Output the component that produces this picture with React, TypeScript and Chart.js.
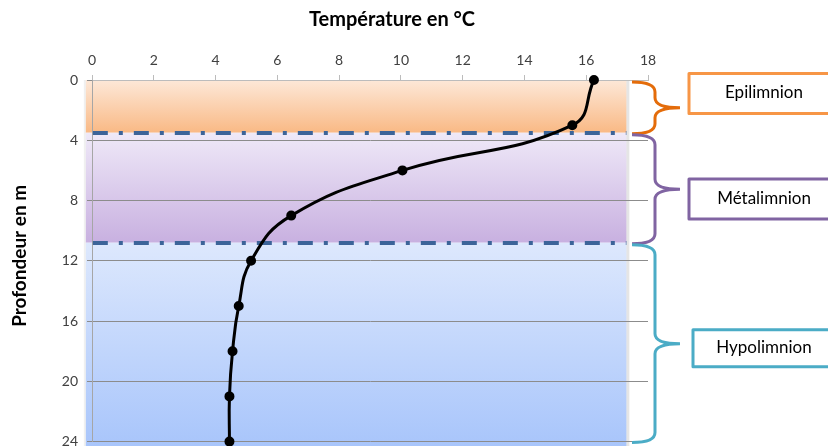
import React, { useEffect, useRef } from 'react';
import { Chart, registerables } from 'chart.js';

Chart.register(...registerables);

// ---- Data ----
const depths = [0, 3, 6, 9, 12, 15, 18, 21, 24];
const temperatures = [16.25, 15.55, 10.05, 6.45, 5.15, 4.75, 4.55, 4.45, 4.45];

const layerNames = ['Epilimnion', 'Métalimnion', 'Hypolimnion'];
const layerTops = [0, 3.5, 10.8];
const layerBottoms = [3.5, 10.8, 24];
const layerLabelDepths = [0.9, 7.9, 17.8];

const xTitle = 'Température en °C';
const yTitle = 'Profondeur en m';
const xTicksRange = [0, 18, 2]; // min, max, step
const yTicksRange = [0, 24, 4];
const bandTempRange = [-0.2, 17.3];

// ---- Styles ----
const FONT = 'Lato, "Open Sans", sans-serif';
const layerStyles = [
  { top: '#fde8d8', bottom: '#f9b985', brace: '#e46c0a', box: '#f79646' },
  { top: '#efe9f8', bottom: '#c8b0e0', brace: '#8064a2', box: '#8064a2' },
  { top: '#dde8fd', bottom: '#a5c3fb', brace: '#4bacc6', box: '#4bacc6' },
];

const decorPlugin = {
  id: 'decor',
  beforeDraw(chart: any) {
    const { ctx } = chart;
    const x = chart.scales.x;
    const y = chart.scales.y;
    const left = x.getPixelForValue(bandTempRange[0]);
    const right = x.getPixelForValue(bandTempRange[1]);
    ctx.save();
    layerTops.forEach((t, i) => {
      const y0 = y.getPixelForValue(t);
      const y1 = i === layerTops.length - 1 ? chart.height : y.getPixelForValue(layerBottoms[i]);
      const g = ctx.createLinearGradient(0, y0, 0, y1);
      g.addColorStop(0, layerStyles[i].top);
      g.addColorStop(1, layerStyles[i].bottom);
      ctx.fillStyle = g;
      ctx.fillRect(left, y0, right - left, y1 - y0);
    });
    const top = y.getPixelForValue(layerTops[0]);
    ctx.fillStyle = 'rgba(0,0,0,0.10)';
    ctx.fillRect(right, top, 3, chart.height - top);
    ctx.fillStyle = 'rgba(0,0,0,0.06)';
    ctx.fillRect(left - 2, top, 2, chart.height - top);
    ctx.restore();
  },
  beforeDatasetsDraw(chart: any) {
    const { ctx } = chart;
    const x = chart.scales.x;
    const y = chart.scales.y;
    const left = x.getPixelForValue(bandTempRange[0]);
    const right = x.getPixelForValue(bandTempRange[1]);
    ctx.save();
    ctx.strokeStyle = '#3c6499';
    ctx.lineWidth = 4;
    ctx.setLineDash([15, 11, 4, 11]);
    ctx.lineDashOffset = 34;
    [layerBottoms[0], layerBottoms[1]].forEach((d) => {
      const py = Math.round(y.getPixelForValue(d));
      ctx.beginPath();
      ctx.moveTo(left, py);
      ctx.lineTo(right, py);
      ctx.stroke();
    });
    ctx.restore();
  },
  afterDraw(chart: any) {
    const { ctx, chartArea } = chart;
    const y = chart.scales.y;
    ctx.save();
    // titles
    ctx.fillStyle = '#000';
    ctx.font = `bold 20px ${FONT}`;
    ctx.textAlign = 'center';
    ctx.textBaseline = 'middle';
    ctx.fillText(xTitle, (chartArea.left + chartArea.right) / 2 + 22, 20);
    ctx.save();
    ctx.translate(20, (chartArea.top + chartArea.bottom) / 2 - 5);
    ctx.rotate(-Math.PI / 2);
    ctx.font = `bold 19px ${FONT}`;
    ctx.fillText(yTitle, 0, 0);
    ctx.restore();

    // braces and boxes
    const R = chartArea.right;
    const x0 = R - 16;
    const xv = R + 7;
    const xt = R + 32;
    const r = 10;
    layerTops.forEach((t, i) => {
      const yTop = y.getPixelForValue(t) + 2;
      const yBot = y.getPixelForValue(layerBottoms[i]) + 1;
      const yMid = (yTop + yBot) / 2;
      ctx.strokeStyle = layerStyles[i].brace;
      ctx.lineWidth = 3;
      ctx.lineJoin = 'round';
      ctx.beginPath();
      ctx.moveTo(x0, yTop);
      ctx.quadraticCurveTo(xv, yTop, xv, yTop + r);
      ctx.lineTo(xv, yMid - r);
      ctx.quadraticCurveTo(xv, yMid, xt, yMid);
      ctx.moveTo(xt, yMid);
      ctx.quadraticCurveTo(xv, yMid, xv, yMid + r);
      ctx.lineTo(xv, yBot - r);
      ctx.quadraticCurveTo(xv, yBot, x0, yBot);
      ctx.stroke();

      const cy = y.getPixelForValue(layerLabelDepths[i]);
      const bx = R + 41 + (i === 2 ? 4 : 0);
      const bh = i === 2 ? 37 : 40;
      ctx.strokeStyle = layerStyles[i].box;
      ctx.lineWidth = 3;
      ctx.strokeRect(bx, cy - bh / 2, 156, bh);
      ctx.fillStyle = '#000';
      ctx.font = `17px ${FONT}`;
      ctx.textAlign = 'center';
      ctx.textBaseline = 'middle';
      ctx.fillText(layerNames[i], R + 116, cy - 1);
    });
    ctx.restore();
  },
};

export default function App() {
  const ref = useRef<HTMLCanvasElement>(null);
  useEffect(() => {
    document.body.style.margin = '0';
    const chart = new Chart(ref.current as HTMLCanvasElement, {
      type: 'scatter',
      data: {
        datasets: [
          {
            data: depths.map((d, i) => ({ x: temperatures[i], y: d })),
            showLine: true,
            borderColor: '#000',
            backgroundColor: '#000',
            borderWidth: 3,
            pointRadius: 3.5,
            pointBackgroundColor: '#000',
            pointBorderColor: '#000',
            tension: 0.45,
            clip: false,
          } as any,
        ],
      },
      options: {
        animation: false,
        responsive: false,
        devicePixelRatio: 1,
        layout: { padding: { left: 0, top: 0, right: 180, bottom: 5 } },
        plugins: { legend: { display: false }, tooltip: { enabled: false } },
        scales: {
          x: {
            type: 'linear',
            position: 'top',
            min: xTicksRange[0],
            max: xTicksRange[1],
            ticks: { stepSize: xTicksRange[2], color: '#404040', font: { family: FONT, size: 14 }, padding: 6 },
            grid: { drawOnChartArea: false, drawTicks: true, tickLength: 5, color: '#bcbcbc' },
            border: { display: true, color: '#bcbcbc', width: 1 },
            afterFit: (s: any) => { s.height = 80; },
          },
          y: {
            type: 'linear',
            reverse: true,
            min: yTicksRange[0],
            max: yTicksRange[1],
            ticks: { stepSize: yTicksRange[2], color: '#404040', font: { family: FONT, size: 14 }, padding: 9 },
            grid: { color: '#8c8c8c', tickLength: 5, lineWidth: 1 },
            border: { display: true, color: '#a6a6a6', width: 1 },
            afterFit: (s: any) => { s.width = 92; },
          },
        },
      },
      plugins: [decorPlugin],
    });
    return () => chart.destroy();
  }, []);
  return (
    <div style={{ position: 'absolute', left: 0, top: 0, width: 828, height: 446, overflow: 'hidden' }}>
      <canvas ref={ref} width={828} height={459} />
    </div>
  );
}
